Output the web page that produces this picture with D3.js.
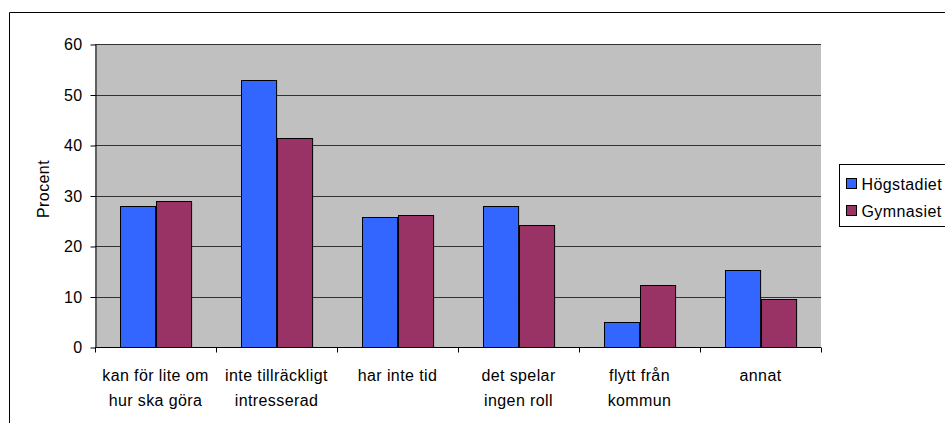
<!DOCTYPE html>
<html><head><meta charset="utf-8">
<script src="https://cdn.jsdelivr.net/npm/d3@7"></script>
<style>body{margin:0;background:#fff}svg{display:block}text{font-family:"Liberation Sans",Arial,sans-serif;fill:#000}</style>
</head><body><svg id="c" width="945" height="423"></svg>
<script>
const categories = [["kan för lite om","hur ska göra"],["inte tillräckligt","intresserad"],["har inte tid"],["det spelar","ingen roll"],["flytt från","kommun"],["annat"]];
const seriesNames = ["Högstadiet","Gymnasiet"];
const hogstadiet = [28.0, 52.8, 25.7, 27.9, 5.0, 15.3];
const gymnasiet = [28.9, 41.4, 26.1, 24.2, 12.2, 9.6];
const yTicks = [0,10,20,30,40,50,60];
const colors = ["#3366FF","#993366"];

const FS = 16, LS = "0.4px";
const svg = d3.select("#c");
const L=95, R=821, T=44, B=347;
const idx = categories.map((d,i)=>i);
const x0 = d3.scaleBand().domain(idx).range([L,R]).padding(0);
const bw = x0.bandwidth();
const gw = bw*0.58;
const x1 = d3.scaleBand().domain(seriesNames).range([(bw-gw)/2,(bw+gw)/2]);
const y = d3.scaleLinear().domain([0,60]).range([B,T]);

// outer border (left & top visible)
svg.append("path").attr("d","M9.5,430 V12.5 H950").attr("fill","none").attr("stroke","#000").attr("stroke-width",1);

svg.append("rect").attr("x",L).attr("y",T).attr("width",R-L).attr("height",B-T).attr("fill","#C0C0C0");
svg.selectAll(".grid").data(yTicks.filter(t=>t>0)).enter().append("line")
  .attr("x1",L).attr("x2",R).attr("y1",d=>Math.round(y(d))+0.5).attr("y2",d=>Math.round(y(d))+0.5)
  .attr("stroke","#333").attr("stroke-width",1);

const data = idx.map(i=>({i, vals:[hogstadiet[i],gymnasiet[i]]}));
const g = svg.selectAll(".grp").data(data).enter().append("g").attr("transform",d=>`translate(${x0(d.i)},0)`);
g.selectAll("rect").data(d=>d.vals.map((v,k)=>({v,k}))).enter().append("rect")
  .attr("x",d=>Math.round(x1(seriesNames[d.k]))+0.5)
  .attr("width",x1.bandwidth())
  .attr("y",d=>Math.round(y(d.v))+0.5)
  .attr("height",d=>B-Math.round(y(d.v)))
  .attr("fill",d=>colors[d.k]).attr("stroke","#000").attr("stroke-width",1);

// y axis
const ya = svg.append("g").attr("transform",`translate(${L+0.5},0.5)`)
  .call(d3.axisLeft(y).tickValues(yTicks).tickSize(5).tickPadding(8).tickSizeOuter(0));
ya.select(".domain").attr("stroke","#000");
ya.selectAll(".tick line").attr("stroke","#000");
ya.selectAll("text").attr("font-size",FS).style("letter-spacing",LS).style("font-family","'Liberation Sans',Arial,sans-serif").attr("fill","#000");

// x axis
const xa = svg.append("g").attr("transform",`translate(0,${B+0.5})`);
xa.append("line").attr("x1",L).attr("x2",R).attr("stroke","#000");
const bounds = idx.map(i=>x0(i)).concat([R]);
xa.selectAll(".xt").data(bounds).enter().append("line")
  .attr("x1",d=>Math.round(d)+0.5).attr("x2",d=>Math.round(d)+0.5).attr("y1",0).attr("y2",5).attr("stroke","#000");
xa.selectAll(".xl").data(data).enter().append("text")
  .attr("text-anchor","middle").attr("font-size",FS).style("letter-spacing",LS)
  .attr("transform",d=>`translate(${x0(d.i)+bw/2},0)`)
  .each(function(d){
    const t=d3.select(this);
    categories[d.i].forEach((line,j)=>t.append("tspan").attr("x",0).attr("y",33+j*25).text(line));
  });

// y title
svg.append("text").attr("transform","translate(48.5,189) rotate(-90)").attr("text-anchor","middle").attr("font-size",FS).style("letter-spacing",LS).text("Procent");

// legend
const lg = svg.append("g");
lg.append("rect").attr("x",839.5).attr("y",164.5).attr("width",120).attr("height",62).attr("fill","#fff").attr("stroke","#000");
seriesNames.forEach((s,k)=>{
  const yy = 178 + k*27;
  lg.append("rect").attr("x",846.5).attr("y",yy+0.5).attr("width",10).attr("height",10).attr("fill",colors[k]).attr("stroke","#000");
  lg.append("text").attr("x",861.5).attr("y",yy+11.5).attr("font-size",FS).style("letter-spacing",LS).text(s);
});
</script></body></html>
